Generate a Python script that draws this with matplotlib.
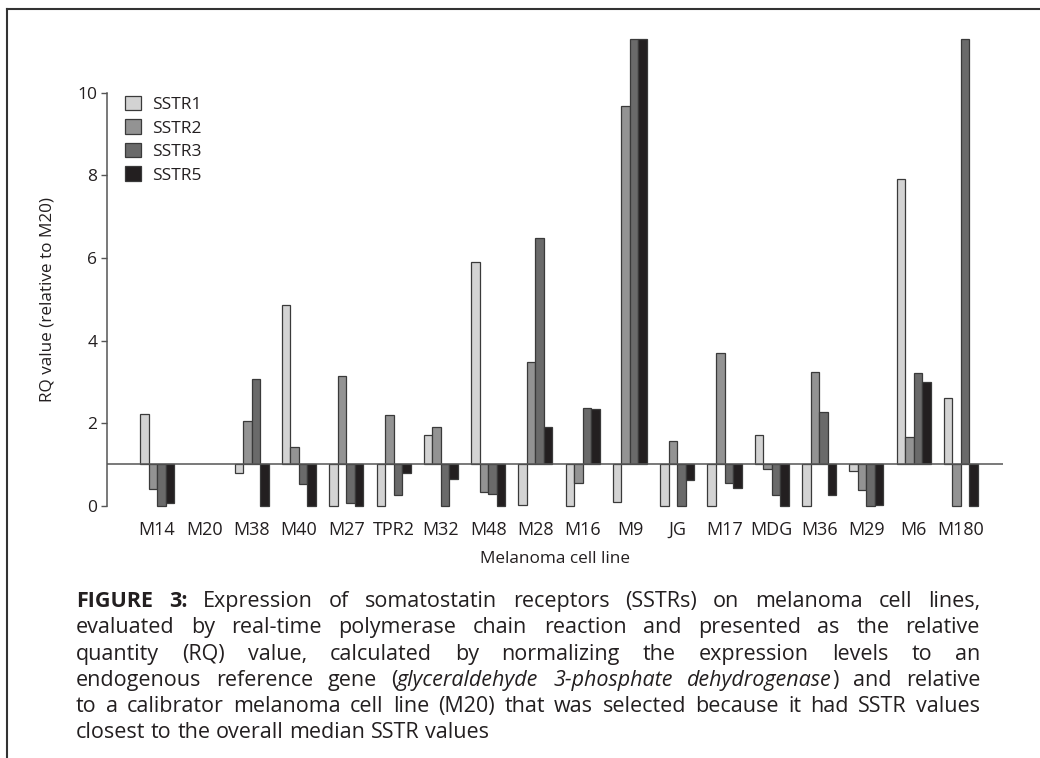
#!/usr/bin/python3

# SSTR expression per melanoma cell line, RQ relative to M20, bars from the RQ=1 baseline.

import matplotlib
matplotlib.use("Agg")
import matplotlib.pyplot as plt
from matplotlib.lines import Line2D
from matplotlib.transforms import IdentityTransform

cell_lines = ["M14", "M20", "M38", "M40", "M27", "TPR2", "M32", "M48", "M28",
	"M16", "M9", "JG", "M17", "MDG", "M36", "M29", "M6", "M180"]
sstr1 = [2.22, 1.0, 0.78, 4.87, 0.0, 0.0, 1.71, 5.90, 0.02, 0.0, 0.09, 0.0, 0.0, 1.71, 0.0, 0.85, 7.92, 2.60]
sstr2 = [0.40, 1.0, 2.05, 1.43, 3.13, 2.20, 1.91, 0.32, 3.47, 0.55, 9.67, 1.57, 3.69, 0.90, 3.23, 0.39, 1.67, 0.0]
sstr3 = [0.0, 1.0, 3.08, 0.53, 0.06, 0.25, 0.0, 0.28, 6.49, 2.37, 11.3, 0.0, 0.56, 0.26, 2.27, 0.0, 3.21, 11.3]
sstr5 = [0.07, 1.0, 0.0, 0.0, 0.0, 0.80, 0.64, 0.0, 1.90, 2.34, 11.3, 0.63, 0.44, 0.0, 0.25, 0.02, 2.99, 0.0]
series = ["SSTR1", "SSTR2", "SSTR3", "SSTR5"]
colors = ["#d3d3d3", "#939393", "#6a6a6a", "#231f20"]

# caption lines; each word is a list of (text, style) pieces
caption = [
	[[("FIGURE", "b")], [("3:", "b")], "Expression", "of", "somatostatin", "receptors", "(SSTRs)", "on", "melanoma", "cell", "lines,"],
	"evaluated by real-time polymerase chain reaction and presented as the relative".split(),
	"quantity (RQ) value, calculated by normalizing the expression levels to an".split(),
	["endogenous", "reference", "gene", [("(", "r"), ("glyceraldehyde", "i")], [("3-phosphate", "i")],
		[("dehydrogenase", "i"), (")", "r")], "and", "relative"],
	"to a calibrator melanoma cell line (M20) that was selected because it had SSTR values".split(),
	"closest to the overall median SSTR values".split(),
]

FONT = ["Open Sans", "DejaVu Sans"]
TXT = "#231f20"
plt.rcParams['font.family'] = FONT

W, H = 1040, 758
fig = plt.figure(figsize=(W / 100, H / 100), dpi=100)
ax = fig.add_axes([107 / W, (H - 505.7) / H, (1003 - 107) / W, (505.7 - 37) / H])

width = 0.18
base = 1.0
for k, vals in enumerate([sstr1, sstr2, sstr3, sstr5]):
	xs = [i + (k - 1.5) * width for i in range(len(cell_lines))]
	hs = [v - base for v in vals]
	lw = [0 if h == 0 else 0.9 for h in hs]
	ax.bar(xs, hs, width, bottom=base, color=colors[k], edgecolor="#3a3a3a",
		linewidth=lw, label=series[k], clip_on=False, zorder=2)

ax.axhline(base, color="#555555", linewidth=1.1, zorder=3)

ax.set_xlim(-1.06, len(cell_lines) - 1 + 0.89)
ax.set_ylim(0, 11.35)
ax.set_yticks(range(0, 11, 2))
ax.set_xticks(range(len(cell_lines)))
ax.set_xticklabels(cell_lines)
ax.tick_params(axis="x", length=0, pad=11, labelsize=13, labelcolor=TXT)
ax.tick_params(axis="y", length=4, width=1, color="#555555", labelsize=12.5, labelcolor=TXT, pad=3)
for s in ["top", "right", "bottom"]:
	ax.spines[s].set_visible(False)
ax.spines["left"].set_bounds(0, 10)
ax.spines["left"].set_color("#555555")
ax.spines["left"].set_linewidth(1.1)

ax.set_ylabel("RQ value (relative to M20)", fontsize=12.3, color=TXT)
ax.yaxis.set_label_coords((56 - 107) / 896, 5 / 11.35)
ax.set_xlabel("Melanoma cell line", fontsize=12.3, color=TXT)
ax.xaxis.set_label_coords(0.5, -(559 - 505.7) / (505.7 - 37))
ax.xaxis.label.set_va("center")

ax.legend(loc="upper left", bbox_to_anchor=(125 / W, 1 - 96 / H), bbox_transform=fig.transFigure,
	frameon=False, fontsize=12.5, handlelength=0.9, handleheight=0.9, handletextpad=0.65,
	labelspacing=0.36, borderpad=0, borderaxespad=0, labelcolor=TXT)

# frame around the figure (open on right and bottom)
fig.add_artist(Line2D([7 / W, 1], [1 - 9 / H, 1 - 9 / H], transform=fig.transFigure, color="#333333", linewidth=1.5))
fig.add_artist(Line2D([7 / W, 7 / W], [0, 1 - 9 / H], transform=fig.transFigure, color="#333333", linewidth=1.5))

# justified caption
styles = {"r": dict(), "b": dict(fontweight="bold"), "i": dict(fontstyle="italic")}
renderer = fig.canvas.get_renderer()
x0, x1 = 76, 980
y_base = 607
dy = 26.3
fs = 15.5

def piece(text, st, x, y):
	return fig.text(x, y, text, transform=IdentityTransform(), fontsize=fs, color=TXT,
		ha="left", va="baseline", **styles[st])

for n, line in enumerate(caption):
	y = H - (y_base + n * dy)
	words = [[(w, "r")] if isinstance(w, str) else w for w in line]
	arts = []
	widths = []
	for w in words:
		parts = [piece(t, st, 0, y) for t, st in w]
		ws = [p.get_window_extent(renderer).width for p in parts]
		arts.append((parts, ws))
		widths.append(sum(ws))
	if n < len(caption) - 1:
		gap = (x1 - x0 - sum(widths)) / (len(words) - 1)
	else:
		sp = piece(" ", "r", 0, y)
		gap = sp.get_window_extent(renderer).width
		sp.remove()
	x = x0
	for parts, ws in arts:
		for p, wd in zip(parts, ws):
			p.set_x(x)
			x += wd
		x += gap

fig.savefig("out.png", dpi=100)
